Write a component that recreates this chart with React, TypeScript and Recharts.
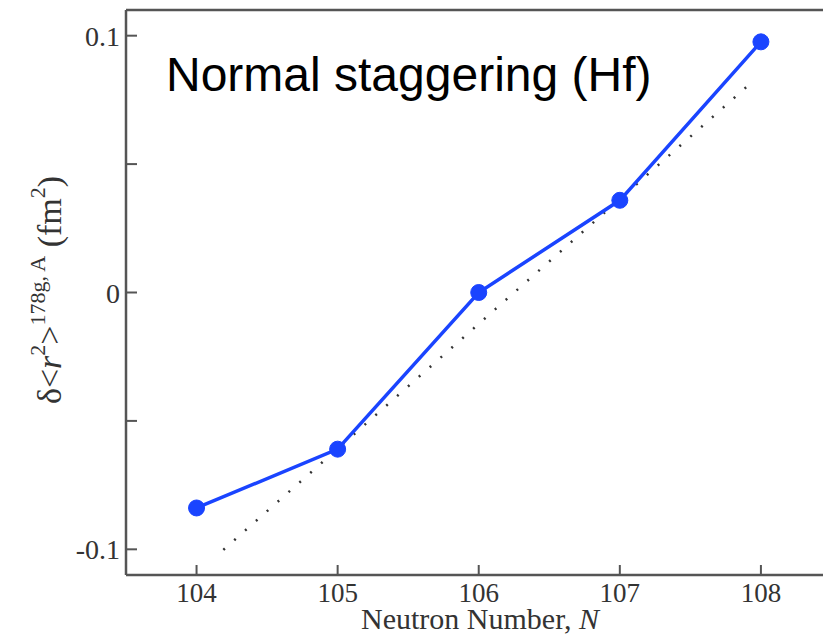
import React from "react";
import { LineChart, Line, XAxis, YAxis, ReferenceLine } from "recharts";

const neutronNumbers = [104, 105, 106, 107, 108];
const deltaR2 = [-0.0839, -0.061, 0.0, 0.0359, 0.0976];
const fitN = [104.19, 107.93];
const fitValues = [-0.1002, 0.0816];
const xTicks = [104, 105, 106, 107, 108];
const yTicks = [-0.1, -0.05, 0, 0.05, 0.1];
const yTickLabels: Record<string, string> = { "-0.1": "-0.1", "0": "0", "0.1": "0.1" };

const pointData = neutronNumbers.map((n, i) => ({ n, v: deltaR2[i] }));
const fitData = fitN.map((n, i) => ({ n, v: fitValues[i] }));

const AXIS = "#555";
const TEXT = "#333";
const SERIF = "'Liberation Serif', 'Times New Roman', serif";

function XTick(props: any) {
  const { x, y, payload } = props;
  return (
    <g>
      <line x1={x} x2={x} y1={y} y2={y - 10} stroke={AXIS} strokeWidth={2} />
      <text x={x} y={y + 27} textAnchor="middle" fontFamily={SERIF} fontSize={27} fill={TEXT}>
        {payload.value}
      </text>
    </g>
  );
}

function YTick(props: any) {
  const { x, y, payload } = props;
  const label = yTickLabels[String(payload.value)];
  return (
    <g>
      <line x1={x} x2={x + 11} y1={y} y2={y} stroke={AXIS} strokeWidth={2} />
      {label !== undefined && (
        <text x={x - 6} y={y + 10} textAnchor="end" fontFamily={SERIF} fontSize={28} fill={TEXT}>
          {label}
        </text>
      )}
    </g>
  );
}

export default function App() {
  return (
    <div style={{ position: "absolute", left: 0, top: 0, width: 823, height: 638, background: "#fff" }}>
      <LineChart
        width={823}
        height={638}
        margin={{ top: 10, right: 0, bottom: 3, left: 66 }}
      >
        <XAxis
          type="number"
          dataKey="n"
          domain={[103.5, 108.44]}
          ticks={xTicks}
          allowDataOverflow
          height={60}
          tickSize={0}
          tickMargin={0}
          tickLine={false}
          axisLine={{ stroke: AXIS, strokeWidth: 2.5 }}
          tick={<XTick />}
        />
        <YAxis
          type="number"
          dataKey="v"
          domain={[-0.11, 0.11]}
          ticks={yTicks}
          allowDataOverflow
          width={60}
          tickSize={0}
          tickMargin={0}
          tickLine={false}
          axisLine={{ stroke: AXIS, strokeWidth: 2.5 }}
          tick={<YTick />}
        />
        <ReferenceLine y={0.11} stroke={AXIS} strokeWidth={2.5} ifOverflow="visible" />
        <Line
          data={fitData}
          dataKey="v"
          stroke="#333"
          strokeWidth={2.5}
          strokeDasharray="2 12.5"
          dot={false}
          isAnimationActive={false}
        />
        <Line
          data={pointData}
          dataKey="v"
          stroke="#1a44ff"
          strokeWidth={3.5}
          dot={{ r: 8, fill: "#1a44ff", stroke: "#1a44ff", strokeWidth: 1 }}
          isAnimationActive={false}
        />
        <text x={166} y={91} fontFamily="'Liberation Sans', Arial, sans-serif" fontSize={48} fill="#000">
          Normal staggering (Hf)
        </text>
        <text x={480} y={629} textAnchor="middle" fontFamily={SERIF} fontSize={30} fill={TEXT}>
          Neutron Number, <tspan fontStyle="italic">N</tspan>
        </text>
        <text
          transform="rotate(-90)"
          x={-290}
          y={61}
          textAnchor="middle"
          fontFamily={SERIF}
          fontSize={34}
          fill={TEXT}
        >
          δ&lt;<tspan fontStyle="italic">r</tspan>
          <tspan dy={-16} fontSize={22}>2</tspan>
          <tspan dy={16}>&gt;</tspan>
          <tspan dy={-16} fontSize={22}>178g, A</tspan>
          <tspan dy={16}> (fm</tspan>
          <tspan dy={-16} fontSize={22}>2</tspan>
          <tspan dy={16}>)</tspan>
        </text>
      </LineChart>
    </div>
  );
}
